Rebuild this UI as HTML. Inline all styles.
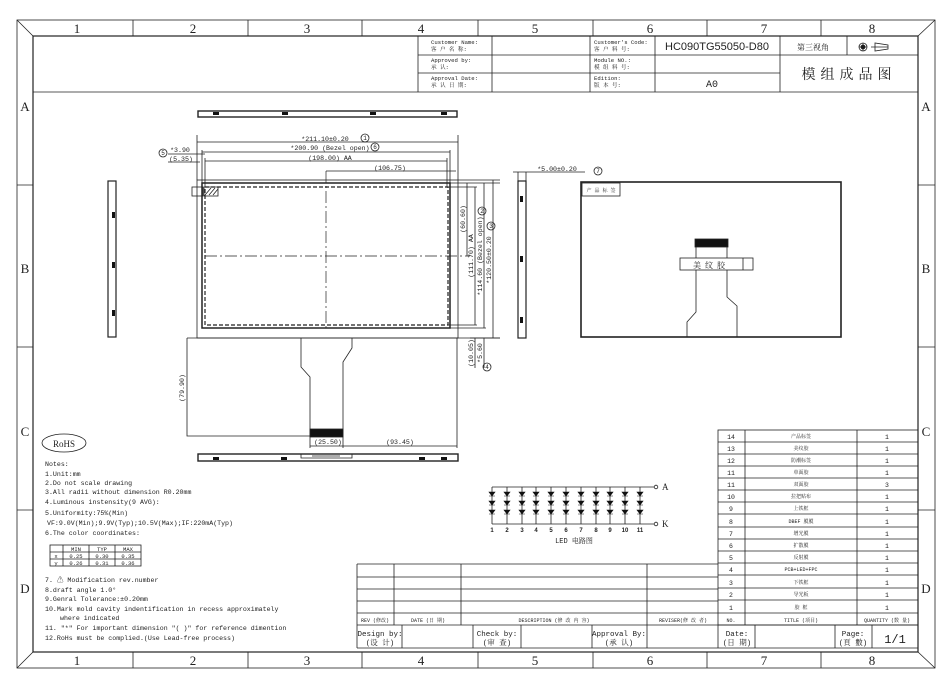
<!DOCTYPE html>
<html><head><meta charset="utf-8"><style>
html,body{margin:0;padding:0;background:#fff}
svg{display:block}
text{font-family:"Liberation Mono","Noto Serif CJK SC",monospace;fill:#222}
.sf{font-family:"Liberation Serif","Noto Serif CJK SC",serif}
.s{font-size:5.6px}
.m{font-size:6.6px}
</style></head><body>
<svg width="942" height="682" viewBox="0 0 942 682" xmlns="http://www.w3.org/2000/svg">
<g fill="none" stroke="#222" stroke-width="0.8">
<rect x="17" y="20" width="918" height="648"/>
<rect x="33" y="36" width="885" height="616" stroke-width="1.2"/>
<line x1="17" y1="20" x2="33" y2="36"/><line x1="935" y1="20" x2="918" y2="36"/>
<line x1="17" y1="668" x2="33" y2="652"/><line x1="935" y1="668" x2="918" y2="652"/>
<path d="M133 20V36M248 20V36M362 20V36M478 20V36M593 20V36M707 20V36M821 20V36"/>
<path d="M133 652V668M248 652V668M362 652V668M478 652V668M593 652V668M707 652V668M821 652V668"/>
<path d="M17 185H33M17 347H33M17 510H33M918 185H935M918 347H935M918 510H935"/>
<line x1="33" y1="92" x2="918" y2="92"/>
<path d="M418 36V92M492 36V92M590 36V92M655 36V92M780 36V92M847 36V55M418 55H780M418 73H780M780 55H918"/>
<rect x="198" y="111" width="259" height="6" stroke-width="1.4"/>
<rect x="198" y="454" width="260" height="7" stroke-width="1.4"/>
<path d="M301 454V458H352V454M312 456H340"/>
<rect x="197" y="180" width="261" height="158"/>
<rect x="202" y="183" width="248" height="145" stroke-width="1.5"/>
<rect x="205" y="187" width="243" height="138" stroke-dasharray="4,2" stroke-width="1.2"/>
<path d="M326 171V328M205 256H470" stroke-dasharray="12,3,2,3" stroke-width="0.7"/>
<rect x="192" y="187" width="11" height="9"/>
<rect x="204" y="187" width="14" height="9"/>
<path d="M205 195l6-7M209 195l6-7M213 195l5-6"/>
<path d="M197 180V135M458 180V135M197 142H458"/>
<path d="M202 183V150M450 183V150M202 152H450"/>
<path d="M205 187V158M447 187V158M205 161H447"/>
<path d="M326 171H456"/>
<path d="M168 154H205M168 162H200"/>
<path d="M450 183H500M458 180H500M448 187H477"/>
<path d="M467 183V256M475 187V325M484 183V328M493 180V338M500 338H470"/>
<path d="M450 328H486M448 325H477M458 338H500"/>
<path d="M475 338V368M484 338V368"/>
<path d="M187 338H458M187 338V436H310M301 338V367L310 377V436M352 338V348L343 362V436M457 338V448M343 436V448M310 436V448M310 446H343M343 446H457"/>
<rect x="310" y="429" width="33" height="8" fill="#111"/>
<rect x="108" y="181" width="8" height="156" stroke-width="1.2"/>
<rect x="518" y="181" width="8" height="157" stroke-width="1.2"/>
<path d="M513 172H585M518 172V181M526 172V181"/>
<rect x="581" y="182" width="260" height="155" stroke-width="1.6"/>
<rect x="582" y="183" width="38" height="13"/>
<rect x="680" y="258" width="73" height="12"/>
<path d="M743 258V270M696 247V258M727 247V258M696 270V312L687 322V337M727 270V297L737 306V337"/>
<rect x="695" y="239" width="33" height="8" fill="#111"/>
<ellipse cx="64" cy="443" rx="22" ry="9"/>
<rect x="50" y="545" width="91" height="21"/>
<path d="M50 552H141M50 559H141M63 545V566M89 545V566M115 545V566"/>
<path d="M492 487H654M492 524H654M492 487V524M507 487V524M522 487V524M536 487V524M551 487V524M566 487V524M581 487V524M596 487V524M610 487V524M625 487V524M640 487V524"/>
<circle cx="656" cy="487" r="1.8"/><circle cx="656" cy="524" r="1.8"/>
<rect x="718" y="430" width="200" height="195"/>
<path d="M718 442H918M718 454H918M718 466H918M718 478H918M718 490H918M718 502H918M718 514H918M718 527H918M718 539H918M718 551H918M718 563H918M718 575H918M718 588H918M718 600H918M718 613H918"/>
<path d="M745 430V625M857 430V625"/>
<path d="M357 564H718M357 577H718M357 589H718M357 601H718M357 613H718M357 625H918M357 564V648M394 564V625M461 564V625M647 564V625"/>
<path d="M357 648H918M402 625V648M473 625V648M521 625V648M592 625V648M647 625V648M718 625V648M755 625V648M835 625V648M872 625V648"/>
</g>
<g fill="#111">
<rect x="213" y="112" width="6" height="3"/><rect x="282" y="112" width="6" height="3"/><rect x="370" y="112" width="6" height="3"/><rect x="441" y="112" width="6" height="3"/>
<rect x="213" y="457" width="6" height="3"/><rect x="281" y="457" width="6" height="3"/><rect x="419" y="457" width="6" height="3"/><rect x="441" y="457" width="6" height="3"/>
<rect x="112" y="212" width="3" height="6"/><rect x="112" y="262" width="3" height="6"/><rect x="112" y="310" width="3" height="6"/>
<rect x="520" y="196" width="3" height="6"/><rect x="520" y="256" width="3" height="6"/><rect x="520" y="317" width="3" height="6"/>
</g>
<g fill="none" stroke="#222" stroke-width="0.8">
<circle cx="863" cy="47" r="4" fill="#fff"/><circle cx="863" cy="47" r="2" fill="#111"/>
<path d="M859 47H867M863 43V51M871 47H888M875 43V51L888 49V45Z"/>
<circle cx="365" cy="138" r="4"/><circle cx="375" cy="147" r="4"/><circle cx="163" cy="153" r="4"/>
<circle cx="482" cy="211" r="4"/><circle cx="491" cy="226" r="4"/><circle cx="487" cy="367" r="4"/><circle cx="598" cy="171" r="4"/>
</g>
<g fill="#111" stroke="#111" stroke-width="0.6">
<path d="M489 492h6l-3 4zM489 496h6M489 501h6l-3 4zM489 505h6M489 510h6l-3 4zM489 514h6"/>
<path d="M504 492h6l-3 4zM504 496h6M504 501h6l-3 4zM504 505h6M504 510h6l-3 4zM504 514h6"/>
<path d="M519 492h6l-3 4zM519 496h6M519 501h6l-3 4zM519 505h6M519 510h6l-3 4zM519 514h6"/>
<path d="M533 492h6l-3 4zM533 496h6M533 501h6l-3 4zM533 505h6M533 510h6l-3 4zM533 514h6"/>
<path d="M548 492h6l-3 4zM548 496h6M548 501h6l-3 4zM548 505h6M548 510h6l-3 4zM548 514h6"/>
<path d="M563 492h6l-3 4zM563 496h6M563 501h6l-3 4zM563 505h6M563 510h6l-3 4zM563 514h6"/>
<path d="M578 492h6l-3 4zM578 496h6M578 501h6l-3 4zM578 505h6M578 510h6l-3 4zM578 514h6"/>
<path d="M593 492h6l-3 4zM593 496h6M593 501h6l-3 4zM593 505h6M593 510h6l-3 4zM593 514h6"/>
<path d="M607 492h6l-3 4zM607 496h6M607 501h6l-3 4zM607 505h6M607 510h6l-3 4zM607 514h6"/>
<path d="M622 492h6l-3 4zM622 496h6M622 501h6l-3 4zM622 505h6M622 510h6l-3 4zM622 514h6"/>
<path d="M637 492h6l-3 4zM637 496h6M637 501h6l-3 4zM637 505h6M637 510h6l-3 4zM637 514h6"/>
</g>
<g font-size="13" text-anchor="middle" class="sf">
<text class="sf" x="77" y="33">1</text><text class="sf" x="193" y="33">2</text><text class="sf" x="307" y="33">3</text><text class="sf" x="421" y="33">4</text><text class="sf" x="535" y="33">5</text><text class="sf" x="650" y="33">6</text><text class="sf" x="764" y="33">7</text><text class="sf" x="872" y="33">8</text>
<text class="sf" x="77" y="665">1</text><text class="sf" x="193" y="665">2</text><text class="sf" x="307" y="665">3</text><text class="sf" x="421" y="665">4</text><text class="sf" x="535" y="665">5</text><text class="sf" x="650" y="665">6</text><text class="sf" x="764" y="665">7</text><text class="sf" x="872" y="665">8</text>
<text class="sf" x="25" y="111">A</text><text class="sf" x="25" y="273">B</text><text class="sf" x="25" y="436">C</text><text class="sf" x="25" y="593">D</text>
<text class="sf" x="926" y="111">A</text><text class="sf" x="926" y="273">B</text><text class="sf" x="926" y="436">C</text><text class="sf" x="926" y="593">D</text>
</g>
<g class="s">
<text x="431" y="44">Customer Name:</text><text x="431" y="51">客 户 名 称:</text>
<text x="431" y="62">Approved by:</text><text x="431" y="69">承  认:</text>
<text x="431" y="80">Approval Date:</text><text x="431" y="87">承 认 日 期:</text>
<text x="594" y="44">Customer's Code:</text><text x="594" y="51">客 户 料 号:</text>
<text x="594" y="62">Module  NO.:</text><text x="594" y="69">模 组 料 号:</text>
<text x="594" y="80">Edition:</text><text x="594" y="87">版 本 号:</text>
</g>
<text x="717" y="50" text-anchor="middle" style="font-family:'Liberation Sans',sans-serif;font-size:11px">HC090TG55050-D80</text>
<text x="813" y="50" text-anchor="middle" font-size="8">第三视角</text>
<text x="849" y="79" text-anchor="middle" font-size="14" letter-spacing="5">模组成品图</text>
<text x="712" y="87" text-anchor="middle" font-size="10">A0</text>
<g class="m" text-anchor="middle">
<text x="325" y="141">*211.10±0.20</text>
<text x="330" y="150">*200.90 (Bezel open)</text>
<text x="330" y="160">(198.00) AA</text>
<text x="390" y="170">(106.75)</text>
<text x="180" y="152">*3.90</text>
<text x="181" y="161">(5.35)</text>
<text x="328" y="444">(25.50)</text>
<text x="400" y="444">(93.45)</text>
<text x="557" y="171">*5.00±0.20</text>
<text x="365" y="140" font-size="6">1</text><text x="375" y="149" font-size="6">6</text><text x="163" y="155" font-size="6">5</text>
<text x="482" y="213" font-size="6">2</text><text x="491" y="228" font-size="6">3</text><text x="487" y="369" font-size="6">4</text><text x="598" y="173" font-size="6">7</text>
</g>
<g class="m" text-anchor="middle">
<text transform="translate(465,219) rotate(-90)">(60.60)</text>
<text transform="translate(473,256) rotate(-90)">(111.70) AA</text>
<text transform="translate(482,256) rotate(-90)">*114.60 (Bezel open)</text>
<text transform="translate(491,260) rotate(-90)">*120.50±0.20</text>
<text transform="translate(473,353) rotate(-90)">(10.05)</text>
<text transform="translate(482,353) rotate(-90)">*5.60</text>
<text transform="translate(184,388) rotate(-90)">(79.90)</text>
</g>
<text x="601" y="192" text-anchor="middle" font-size="5">产 品 标 签</text>
<text x="711" y="268" text-anchor="middle" font-size="8" letter-spacing="4">美纹胶</text>
<text x="64" y="447" text-anchor="middle" font-size="9" class="sf">RoHS</text>
<g class="m">
<text x="45" y="466">Notes:</text>
<text x="45" y="476">1.Unit:mm</text>
<text x="45" y="485">2.Do not scale drawing</text>
<text x="45" y="494">3.All radii without dimension R0.20mm</text>
<text x="45" y="504">4.Luminous instensity(9 AVG):</text>
<text x="45" y="515">5.Uniformity:75%(Min)</text>
<text x="47" y="525">VF:9.0V(Min);9.9V(Typ);10.5V(Max);IF:220mA(Typ)</text>
<text x="45" y="535">6.The color coordinates:</text>
<text x="45" y="582">7. ⚠ Modification rev.number</text>
<text x="45" y="592">8.draft angle 1.0°</text>
<text x="45" y="601">9.Genral Tolerance:±0.20mm</text>
<text x="45" y="611">10.Mark mold cavity indentification in recess approximately</text>
<text x="60" y="620">where indicated</text>
<text x="45" y="630">11. "*" For important dimension "( )" for reference dimention</text>
<text x="45" y="640">12.RoHs must be complied.(Use Lead-free process)</text>
</g>
<g font-size="5.5" text-anchor="middle">
<text x="76" y="551">MIN</text><text x="102" y="551">TYP</text><text x="128" y="551">MAX</text>
<text x="56" y="558">x</text><text x="76" y="558">0.25</text><text x="102" y="558">0.30</text><text x="128" y="558">0.35</text>
<text x="56" y="565">y</text><text x="76" y="565">0.26</text><text x="102" y="565">0.31</text><text x="128" y="565">0.36</text>
</g>
<g font-size="6" text-anchor="middle">
<text style="font-family:'Liberation Sans',sans-serif;font-weight:bold" x="492" y="532">1</text><text style="font-family:'Liberation Sans',sans-serif;font-weight:bold" x="507" y="532">2</text><text style="font-family:'Liberation Sans',sans-serif;font-weight:bold" x="522" y="532">3</text><text style="font-family:'Liberation Sans',sans-serif;font-weight:bold" x="536" y="532">4</text><text style="font-family:'Liberation Sans',sans-serif;font-weight:bold" x="551" y="532">5</text><text style="font-family:'Liberation Sans',sans-serif;font-weight:bold" x="566" y="532">6</text><text style="font-family:'Liberation Sans',sans-serif;font-weight:bold" x="581" y="532">7</text><text style="font-family:'Liberation Sans',sans-serif;font-weight:bold" x="596" y="532">8</text><text style="font-family:'Liberation Sans',sans-serif;font-weight:bold" x="610" y="532">9</text><text style="font-family:'Liberation Sans',sans-serif;font-weight:bold" x="625" y="532">10</text><text style="font-family:'Liberation Sans',sans-serif;font-weight:bold" x="640" y="532">11</text>
</g>
<text x="662" y="490" font-size="9" class="sf">A</text><text x="662" y="527" font-size="9" class="sf">K</text>
<text x="574" y="543" text-anchor="middle" font-size="7">LED 电路图</text>
<g font-size="6.5" text-anchor="middle">
<text x="731" y="439">14</text><text x="731" y="451">13</text><text x="731" y="463">12</text><text x="731" y="475">11</text><text x="731" y="487">11</text><text x="731" y="499">10</text><text x="731" y="511">9</text><text x="731" y="524">8</text><text x="731" y="536">7</text><text x="731" y="548">6</text><text x="731" y="560">5</text><text x="731" y="572">4</text><text x="731" y="585">3</text><text x="731" y="597">2</text><text x="731" y="610">1</text>
<text x="887" y="439">1</text><text x="887" y="451">1</text><text x="887" y="463">1</text><text x="887" y="475">1</text><text x="887" y="487">3</text><text x="887" y="499">1</text><text x="887" y="511">1</text><text x="887" y="524">1</text><text x="887" y="536">1</text><text x="887" y="548">1</text><text x="887" y="560">1</text><text x="887" y="572">1</text><text x="887" y="585">1</text><text x="887" y="597">1</text><text x="887" y="610">1</text>
</g>
<g font-size="5" text-anchor="middle">
<text x="801" y="438">产品标签</text><text x="801" y="450">美纹胶</text><text x="801" y="462">防潮标签</text><text x="801" y="474">单面胶</text><text x="801" y="486">双面胶</text><text x="801" y="498">拉把贴布</text><text x="801" y="510">上铁框</text><text x="801" y="523">DBEF 膜膜</text><text x="801" y="535">增光膜</text><text x="801" y="547">扩散膜</text><text x="801" y="559">反射膜</text><text x="801" y="571">PCB+LED+FPC</text><text x="801" y="584">下铁框</text><text x="801" y="596">导光板</text><text x="801" y="609">胶  框</text>
<text x="375" y="622">REV (修改)</text><text x="428" y="622">DATE (日 期)</text><text x="554" y="622">DESCRIPTION (修 改 内 容)</text><text x="683" y="622">REVISER(修 改 者)</text><text x="731" y="622">NO.</text><text x="801" y="622">TITLE (项目)</text><text x="887" y="622">QUANTITY (数 量)</text>
</g>
<g font-size="7.5" text-anchor="middle">
<text x="380" y="636">Design by:</text><text x="380" y="645">(设 计)</text>
<text x="497" y="636">Check by:</text><text x="497" y="645">(审 查)</text>
<text x="619" y="636">Approval By:</text><text x="619" y="645">(承 认)</text>
<text x="737" y="636">Date:</text><text x="737" y="645">(日 期)</text>
<text x="853" y="636">Page:</text><text x="853" y="645">(頁 數)</text>
</g>
<text x="895" y="643" text-anchor="middle" font-size="12">1/1</text>
</svg>
</body></html>
